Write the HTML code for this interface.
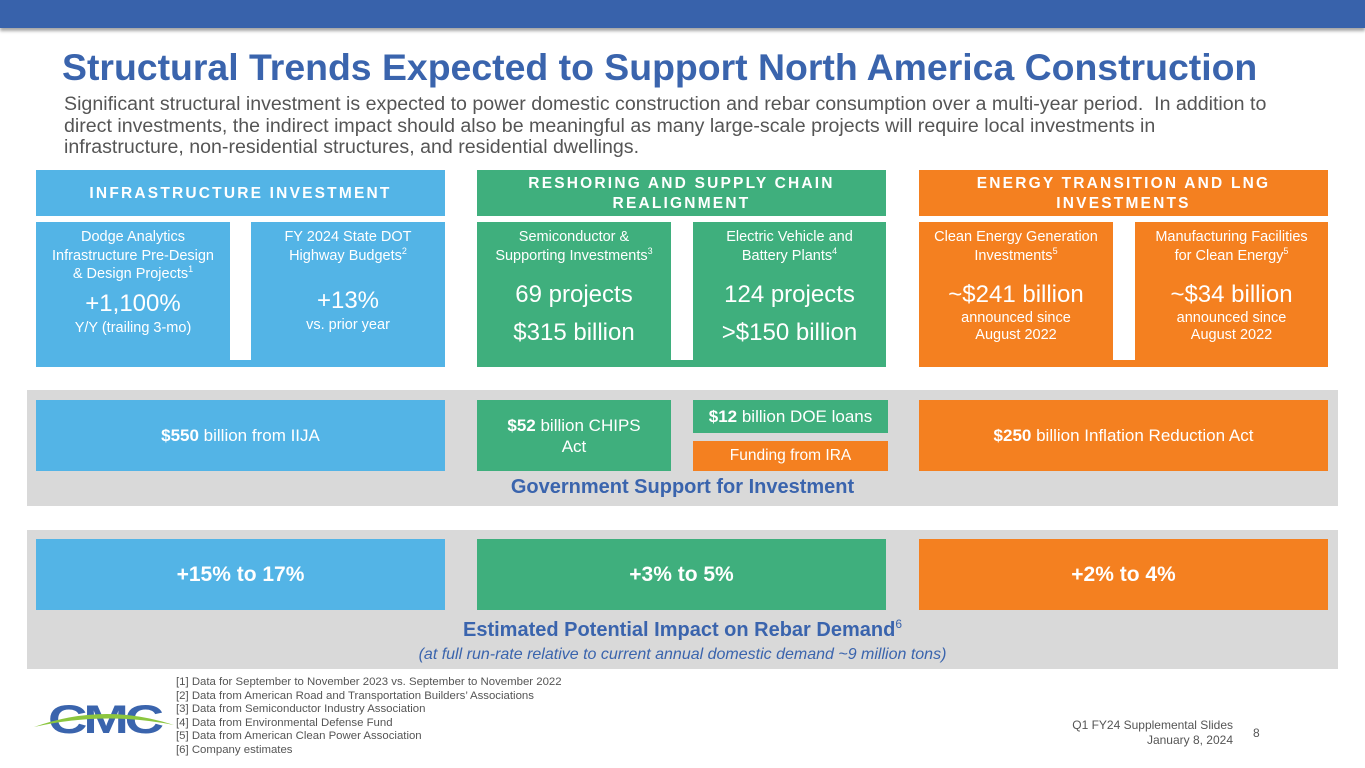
<!DOCTYPE html>
<html><head><meta charset="utf-8"><style>
*{margin:0;padding:0;box-sizing:border-box}
body{width:1365px;height:768px;position:relative;background:#fff;font-family:"Liberation Sans",sans-serif;overflow:hidden}
div{position:absolute}
.c{display:flex;flex-direction:column;align-items:center;justify-content:center;text-align:center;color:#fff}
.b{background:#53b4e6}.g{background:#3faf7d}.o{background:#f48020}
.hd{font-size:15.5px;letter-spacing:2.2px;font-weight:bold;line-height:20px;padding-top:1px}
.sm{font-size:14.5px;line-height:18.5px}
.big{font-size:24px;line-height:30px}
.sub{font-size:14.5px;line-height:17px}
sup{font-size:9px;vertical-align:6px;line-height:0}
.box{font-size:17px;line-height:21px}
.pct{font-size:21px;font-weight:bold}
</style></head><body>
<div style="left:0;top:0;width:1365px;height:28px;background:#3862ab;box-shadow:0 3px 3px rgba(0,0,0,.35)"></div>
<div style="left:62px;top:46px;font-size:37.4px;font-weight:bold;color:#3a64ad;white-space:nowrap">Structural Trends Expected to Support North America Construction</div>
<div style="left:64px;top:94px;font-size:19.6px;line-height:21.5px;color:#555;white-space:nowrap">Significant structural investment is expected to power domestic construction and rebar consumption over a multi-year period.&nbsp; In addition to<br>direct investments, the indirect impact should also be meaningful as many large-scale projects will require local investments in<br>infrastructure, non-residential structures, and residential dwellings.</div>

<div class="c b hd" style="left:36px;top:170px;width:409px;height:46px">INFRASTRUCTURE INVESTMENT</div>
<div class="c g hd" style="left:477px;top:170px;width:409px;height:46px">RESHORING AND SUPPLY CHAIN<br>REALIGNMENT</div>
<div class="c o hd" style="left:919px;top:170px;width:409px;height:46px">ENERGY TRANSITION AND LNG<br>INVESTMENTS</div>

<div class="b" style="left:36px;top:360px;width:409px;height:7px"></div>
<div class="g" style="left:477px;top:360px;width:409px;height:7px"></div>
<div class="o" style="left:919px;top:360px;width:409px;height:7px"></div>

<div class="c b" style="left:36px;top:222px;width:194px;height:145px;justify-content:flex-start;padding-top:6px">
<div style="position:static" class="sm">Dodge Analytics<br>Infrastructure Pre-Design<br>&amp; Design Projects<sup>1</sup></div>
<div style="position:static;margin-top:5px" class="big">+1,100%</div>
<div style="position:static" class="sm">Y/Y (trailing 3-mo)</div></div>
<div class="c b" style="left:251px;top:222px;width:194px;height:145px;justify-content:flex-start;padding-top:6px">
<div style="position:static" class="sm">FY 2024 State DOT<br>Highway Budgets<sup>2</sup></div>
<div style="position:static;margin-top:21px" class="big">+13%</div>
<div style="position:static" class="sm">vs. prior year</div></div>

<div class="c g" style="left:477px;top:222px;width:194px;height:145px;justify-content:flex-start;padding-top:6px">
<div style="position:static" class="sm">Semiconductor &amp;<br>Supporting Investments<sup>3</sup></div>
<div style="position:static;margin-top:15px" class="big">69 projects</div>
<div style="position:static;margin-top:8px" class="big">$315 billion</div></div>
<div class="c g" style="left:693px;top:222px;width:193px;height:145px;justify-content:flex-start;padding-top:6px">
<div style="position:static" class="sm">Electric Vehicle and<br>Battery Plants<sup>4</sup></div>
<div style="position:static;margin-top:15px" class="big">124 projects</div>
<div style="position:static;margin-top:8px" class="big">&gt;$150 billion</div></div>

<div class="c o" style="left:919px;top:222px;width:194px;height:145px;justify-content:flex-start;padding-top:6px">
<div style="position:static" class="sm">Clean Energy Generation<br>Investments<sup>5</sup></div>
<div style="position:static;margin-top:15px" class="big">~$241 billion</div>
<div style="position:static" class="sub">announced since<br>August 2022</div></div>
<div class="c o" style="left:1135px;top:222px;width:193px;height:145px;justify-content:flex-start;padding-top:6px">
<div style="position:static" class="sm">Manufacturing Facilities<br>for Clean Energy<sup>5</sup></div>
<div style="position:static;margin-top:15px" class="big">~$34 billion</div>
<div style="position:static" class="sub">announced since<br>August 2022</div></div>

<div style="left:27px;top:390px;width:1311px;height:116px;background:#d9d9d9"></div>
<div class="c b box" style="left:36px;top:400px;width:409px;height:71px"><span><b>$550</b> billion from IIJA</span></div>
<div class="c g box" style="left:477px;top:400px;width:194px;height:71px"><span><b>$52</b> billion CHIPS<br>Act</span></div>
<div class="c g box" style="left:693px;top:400px;width:195px;height:33px"><span><b>$12</b> billion DOE loans</span></div>
<div class="c o" style="left:693px;top:441px;width:195px;height:30px;font-size:15.5px">Funding from IRA</div>
<div class="c o box" style="left:919px;top:400px;width:409px;height:71px"><span><b>$250</b> billion Inflation Reduction Act</span></div>
<div style="left:27px;top:476px;width:1311px;text-align:center;font-size:20px;font-weight:bold;color:#3a64ad">Government Support for Investment</div>

<div style="left:27px;top:530px;width:1311px;height:139px;background:#d9d9d9"></div>
<div class="c b pct" style="left:36px;top:539px;width:409px;height:71px">+15% to 17%</div>
<div class="c g pct" style="left:477px;top:539px;width:409px;height:71px">+3% to 5%</div>
<div class="c o pct" style="left:919px;top:539px;width:409px;height:71px">+2% to 4%</div>
<div style="left:27px;top:619px;width:1311px;text-align:center;font-size:20px;font-weight:bold;color:#3a64ad">Estimated Potential Impact on Rebar Demand<sup style="font-weight:normal;font-size:12px;vertical-align:8px">6</sup></div>
<div style="left:27px;top:646px;width:1311px;text-align:center;font-size:16px;font-style:italic;color:#3a64ad">(at full run-rate relative to current annual domestic demand ~9 million tons)</div>

<svg style="position:absolute;left:34px;top:694px" width="140" height="46" viewBox="0 0 140 46">
<text x="70" y="39" text-anchor="middle" font-family="Liberation Sans" font-weight="bold" font-size="40" fill="#3a64ad" letter-spacing="-3" textLength="112" lengthAdjust="spacingAndGlyphs">CMC</text>
<path d="M0 33 Q70 8 140 31 Q70 17 0 33Z" fill="#8cc63f"/>
</svg>
<div style="left:176px;top:676px;font-size:11.4px;line-height:13.5px;color:#555">[1] Data for September to November 2023 vs. September to November 2022<br>[2] Data from American Road and Transportation Builders’ Associations<br>[3] Data from Semiconductor Industry Association<br>[4] Data from Environmental Defense Fund<br>[5] Data from American Clean Power Association<br>[6] Company estimates</div>
<div style="left:1000px;top:718px;width:233px;text-align:right;font-size:12px;line-height:15px;color:#555">Q1 FY24 Supplemental Slides<br>January 8, 2024</div>
<div style="left:1253px;top:726px;font-size:12px;color:#555">8</div>
</body></html>
